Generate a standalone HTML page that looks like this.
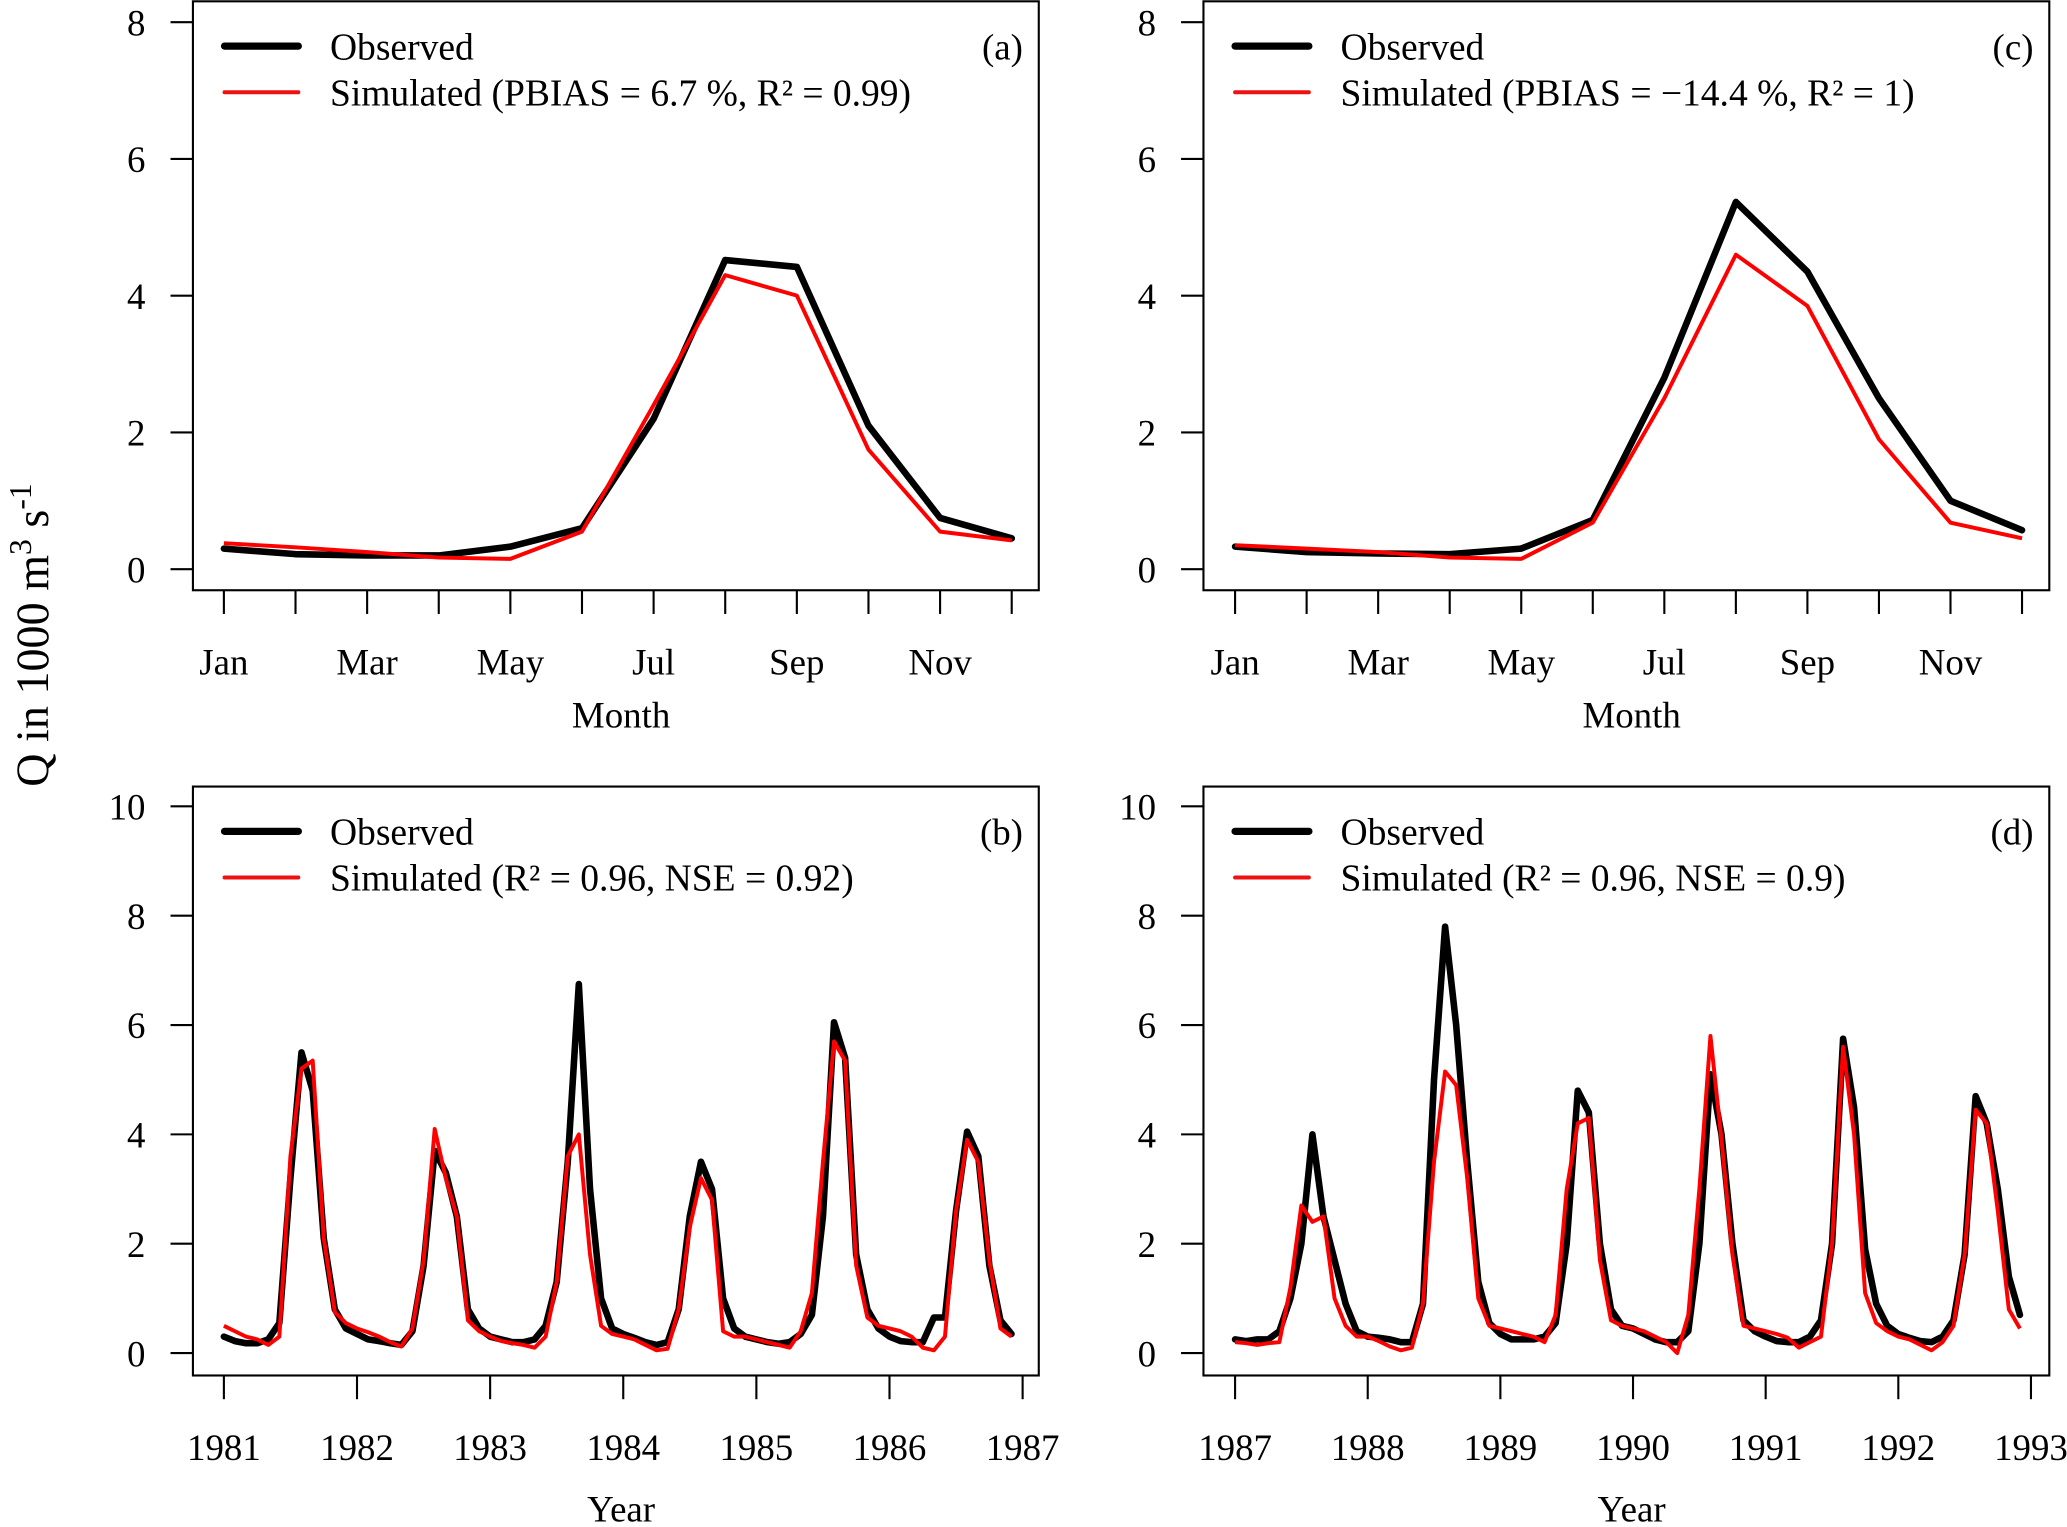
<!DOCTYPE html>
<html><head><meta charset="utf-8">
<style>
html,body{margin:0;padding:0;background:#fff}
svg{display:block}
text{font-family:"Liberation Serif",serif;fill:#000}
</style></head>
<body>
<svg id="chart" width="2067" height="1527" viewBox="0 0 1568 1159" xmlns="http://www.w3.org/2000/svg">
<text transform="translate(36,482) rotate(-90)" text-anchor="middle" font-size="35" font-family="Liberation Serif, serif">Q in 1000 m<tspan dy="-13" font-size="24">3</tspan><tspan dy="13"> s</tspan><tspan dy="-13" font-size="24">-1</tspan></text>
</svg>
<script>
const monthLabels = ["Jan","","Mar","","May","","Jul","","Sep","","Nov",""];
const obsA = [0.3,0.22,0.2,0.2,0.33,0.6,2.2,4.52,4.42,2.1,0.75,0.45];
const simA = [0.38,0.32,0.25,0.17,0.15,0.55,2.4,4.3,4.0,1.75,0.55,0.42];
const obsC = [0.33,0.25,0.23,0.22,0.3,0.72,2.8,5.37,4.35,2.5,1.0,0.57];
const simC = [0.35,0.3,0.25,0.17,0.15,0.68,2.5,4.6,3.85,1.9,0.68,0.45];
const obsB = [
0.3,0.22,0.18,0.18,0.25,0.55,3.2,5.5,4.8,2.1,0.8,0.45,
0.35,0.25,0.22,0.18,0.15,0.4,1.6,3.7,3.3,2.5,0.8,0.45,
0.3,0.25,0.2,0.2,0.25,0.5,1.3,3.5,6.75,3.0,1.0,0.45,
0.35,0.28,0.2,0.15,0.2,0.8,2.5,3.5,3.0,1.0,0.45,0.3,
0.25,0.2,0.17,0.2,0.35,0.7,2.5,6.05,5.4,1.8,0.8,0.45,
0.3,0.22,0.2,0.2,0.65,0.65,2.6,4.05,3.6,1.6,0.6,0.35];
const simB = [
0.5,0.4,0.3,0.25,0.15,0.3,3.6,5.2,5.35,2.1,0.75,0.55,
0.45,0.38,0.3,0.2,0.12,0.45,1.7,4.1,3.2,2.5,0.6,0.4,
0.3,0.22,0.18,0.15,0.1,0.3,1.3,3.6,4.0,1.8,0.5,0.35,
0.3,0.25,0.15,0.05,0.08,0.8,2.3,3.2,2.8,0.4,0.3,0.3,
0.25,0.2,0.15,0.1,0.4,1.1,3.5,5.7,5.35,1.6,0.65,0.5,
0.45,0.4,0.3,0.1,0.05,0.3,2.6,3.9,3.5,1.7,0.45,0.3];
const obsD = [
0.25,0.22,0.25,0.25,0.4,1.0,2.0,4.0,2.5,1.7,0.9,0.4,
0.3,0.28,0.25,0.2,0.2,0.9,5.0,7.8,6.0,3.5,1.3,0.55,
0.35,0.25,0.25,0.25,0.3,0.55,2.0,4.8,4.4,2.0,0.8,0.5,
0.45,0.35,0.25,0.2,0.2,0.4,2.0,5.1,4.0,2.0,0.6,0.4,
0.3,0.22,0.2,0.2,0.3,0.6,2.0,5.75,4.5,1.9,0.9,0.5,
0.35,0.28,0.22,0.2,0.3,0.6,1.8,4.7,4.2,3.0,1.4,0.7];
const simD = [
0.2,0.18,0.15,0.18,0.2,1.2,2.7,2.4,2.5,1.0,0.5,0.3,
0.3,0.22,0.12,0.05,0.1,0.9,3.5,5.15,4.9,3.2,1.0,0.5,
0.45,0.4,0.35,0.3,0.2,0.7,3.0,4.2,4.3,1.7,0.6,0.5,
0.45,0.4,0.3,0.2,0.0,0.7,3.0,5.8,3.9,1.8,0.5,0.45,
0.4,0.35,0.28,0.1,0.2,0.3,2.0,5.6,4.0,1.1,0.55,0.4,
0.3,0.25,0.15,0.05,0.2,0.5,1.8,4.45,4.2,2.6,0.8,0.45];
const yTicksTop = [0,2,4,6,8];
const yTicksBottom = [0,2,4,6,8,10];
const yearsB = [1981,1982,1983,1984,1985,1986,1987];
const yearsD = [1987,1988,1989,1990,1991,1992,1993];

const NS = "http://www.w3.org/2000/svg";
const svg = document.getElementById('chart');
function mk(tag, attrs, parent){
  const e = document.createElementNS(NS, tag);
  for (const k in attrs) e.setAttribute(k, attrs[k]);
  (parent||svg).appendChild(e);
  return e;
}

function panel(cfg){
  const g = mk('g', {});
  
  
  const L = cfg.left, R = cfg.left + 642, T = cfg.top, B = cfg.top + 447;
  const y0 = cfg.y0, yPer = cfg.yPer;
  const yS = v => y0 - v * yPer;
  const box = mk('rect', {x:L, y:T, width:R-L, height:B-T, fill:'none', stroke:'#000', 'stroke-width':1.6}, g);
  
  
  cfg.yTicks.forEach(t => {
    const ln = mk('line', {x1:L-17, x2:L, y1:yS(t), y2:yS(t), stroke:'#000', 'stroke-width':1.6}, g);
    
    
    const tx = mk('text', {x:L-36, y:yS(t)+10, 'text-anchor':'end', 'font-size':28}, g);
    tx.textContent = t;
    
    
  });
  const xS = i => cfg.x0 + i * cfg.xStep;
  cfg.xTicks.forEach((lab, i) => {
    const ln = mk('line', {x1:xS(i*cfg.tickEvery), x2:xS(i*cfg.tickEvery), y1:B, y2:B+18, stroke:'#000', 'stroke-width':1.6}, g);
    
    
    if (lab !== "") {
      const tx = mk('text', {x:xS(i*cfg.tickEvery), y:B+64, 'text-anchor':'middle', 'font-size':28}, g);
      tx.textContent = lab;
      
      
    }
  });
  const xt = mk('text', {x:cfg.left+325, y:B+cfg.xTitleDy, 'text-anchor':'middle', 'font-size':28}, g);
  xt.textContent = cfg.xTitle;
  
  
  const pts = arr => arr.map((v,i) => xS(i).toFixed(1)+','+yS(v).toFixed(1)).join(' ');
  const po = mk('polyline', {points:pts(cfg.obs), fill:'none', stroke:'#000', 'stroke-width':5, 'stroke-linejoin':'round', 'stroke-linecap':'round'}, g);
  
  
  const ps = mk('polyline', {points:pts(cfg.sim), fill:'none', stroke:'#ff0000', 'stroke-width':3, 'stroke-linejoin':'round'}, g);
  
  
  const l1 = mk('line', {x1:L+24, x2:L+80, y1:T+34, y2:T+34, stroke:'#000', 'stroke-width':5.5, 'stroke-linecap':'round'}, g);
  
  
  const t1 = mk('text', {x:L+104, y:T+44, 'font-size':28.5}, g);
  t1.textContent = 'Observed';
  
  
  const l2 = mk('line', {x1:L+24, x2:L+80, y1:T+69, y2:T+69, stroke:'#ee1111', 'stroke-width':3, 'stroke-linecap':'round'}, g);
  
  
  const t2 = mk('text', {x:L+104, y:T+79, 'font-size':28.5}, g);
  t2.textContent = cfg.simLabel;
  
  
  const pl = mk('text', {x:R-12, y:T+44, 'text-anchor':'end', 'font-size':28}, g);
  pl.textContent = cfg.tag;
  
  
}

panel({name:'panel-a', left:146, top:1, y0:432, yPer:51.9, yTicks:yTicksTop,
  x0:169.5, xStep:54.36, xTicks:monthLabels, tickEvery:1, xTitle:'Month', xTitleDy:104,
  obs:obsA, sim:simA, simLabel:'Simulated (PBIAS = 6.7 %, R² = 0.99)', tag:'(a)'});
panel({name:'panel-c', left:913, top:1, y0:432, yPer:51.9, yTicks:yTicksTop,
  x0:937, xStep:54.3, xTicks:monthLabels, tickEvery:1, xTitle:'Month', xTitleDy:104,
  obs:obsC, sim:simC, simLabel:'Simulated (PBIAS = −14.4 %, R² = 1)', tag:'(c)'});
panel({name:'panel-b', left:146, top:597, y0:1027, yPer:41.5, yTicks:yTicksBottom,
  x0:169.5, xStep:8.42, xTicks:yearsB.map(String), tickEvery:12, xTitle:'Year', xTitleDy:111,
  obs:obsB, sim:simB, simLabel:'Simulated (R² = 0.96, NSE = 0.92)', tag:'(b)'});
panel({name:'panel-d', left:913, top:597, y0:1027, yPer:41.5, yTicks:yTicksBottom,
  x0:937, xStep:8.39, xTicks:yearsD.map(String), tickEvery:12, xTitle:'Year', xTitleDy:111,
  obs:obsD, sim:simD, simLabel:'Simulated (R² = 0.96, NSE = 0.9)', tag:'(d)'});
</script>
</body></html>
